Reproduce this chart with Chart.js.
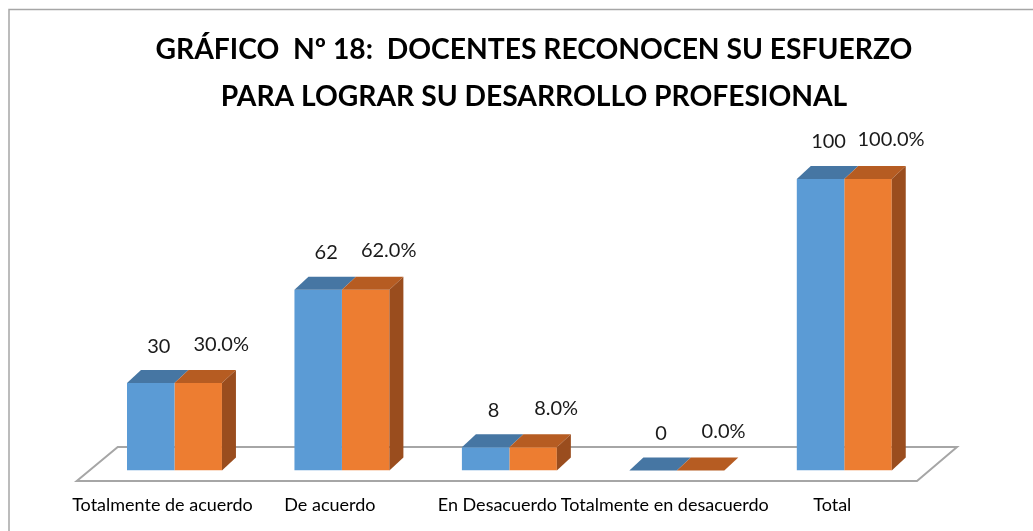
<!DOCTYPE html>
<html>
<head>
<meta charset="utf-8">
<title>Gráfico Nº 18</title>
<script src="https://cdn.jsdelivr.net/npm/chart.js"></script>
<style>
  body { margin: 0; background: #fff; }
  canvas { display: block; }
</style>
</head>
<body>
<canvas id="chart" width="1033" height="531"></canvas>
<script>
const categories = ["Totalmente de acuerdo", "De acuerdo", "En Desacuerdo", "Totalmente en desacuerdo", "Total"];
const cantidad = [30, 62, 8, 0, 100];
const porcentaje = [30.0, 62.0, 8.0, 0.0, 100.0];
const titleLines = ["GRÁFICO  Nº 18:  DOCENTES RECONOCEN SU ESFUERZO", "PARA LOGRAR SU DESARROLLO PROFESIONAL"];

const BLUE = '#5B9BD5', ORANGE = '#ED7D31';
const TOPS = ['#4676A3', '#B65C22'];
const SIDE = '#9A4D1E';
const DX = 14, DY = -13;

// fit the title to the width of the original line
const TITLE_FONT = 'Lato, "Liberation Sans", sans-serif';
const m = document.createElement('canvas').getContext('2d');
m.font = `bold 30px ${TITLE_FONT}`;
const titleSize = 30 * 757 / m.measureText(titleLines[0]).width;

const bars3d = {
  id: 'bars3d',
  beforeDraw(chart) {
    const ctx = chart.ctx;
    ctx.save();
    ctx.strokeStyle = '#A6A6A6';
    ctx.lineWidth = 1.5;
    ctx.strokeRect(9, 9.5, 1100, 600);
    ctx.restore();
  },
  beforeDatasetsDraw(chart) {
    const { ctx, chartArea: a } = chart;
    const fy = a.bottom + 10.5, by = a.bottom - 23.5;
    ctx.save();
    ctx.strokeStyle = '#A6A6A6';
    ctx.lineWidth = 2;
    ctx.beginPath();
    ctx.moveTo(a.left - 14, fy);
    ctx.lineTo(a.right - 11, fy);
    ctx.lineTo(a.right + 29, by);
    ctx.lineTo(a.left + 27, by);
    ctx.closePath();
    ctx.stroke();
    ctx.restore();
  },
  afterDatasetsDraw(chart) {
    const ctx = chart.ctx;
    const n = chart.data.datasets.length;
    ctx.save();
    chart.data.datasets.forEach((ds, di) => {
      chart.getDatasetMeta(di).data.forEach(bar => {
        const l = bar.x - bar.width / 2, r = bar.x + bar.width / 2, t = bar.y, b = bar.base;
        ctx.fillStyle = TOPS[di];
        ctx.beginPath();
        ctx.moveTo(l, t);
        ctx.lineTo(l + DX, t + DY);
        ctx.lineTo(r + DX, t + DY);
        ctx.lineTo(r, t);
        ctx.closePath();
        ctx.fill();
        if (di === n - 1 && b - t > 0.5) {
          ctx.fillStyle = SIDE;
          ctx.beginPath();
          ctx.moveTo(r, t);
          ctx.lineTo(r + DX, t + DY);
          ctx.lineTo(r + DX, b + DY);
          ctx.lineTo(r, b);
          ctx.closePath();
          ctx.fill();
        }
      });
    });

    // value labels
    ctx.font = '20px Lato, "Open Sans", sans-serif';
    ctx.fillStyle = '#1a1a1a';
    ctx.textAlign = 'center';
    ctx.textBaseline = 'middle';
    chart.getDatasetMeta(0).data.forEach((bar, i) => {
      ctx.fillText(String(cantidad[i]), bar.x + 8, bar.y - 37);
    });
    chart.getDatasetMeta(1).data.forEach((bar, i) => {
      ctx.fillText(porcentaje[i].toFixed(1) + '%', bar.x + 23, bar.y - 39);
    });
    ctx.restore();
  }
};

new Chart(document.getElementById('chart'), {
  type: 'bar',
  data: {
    labels: categories,
    datasets: [
      { label: 'Cantidad', data: cantidad, backgroundColor: BLUE },
      { label: 'Porcentaje', data: porcentaje, backgroundColor: ORANGE }
    ]
  },
  options: {
    responsive: false,
    animation: false,
    events: [],
    datasets: { bar: { categoryPercentage: 0.567, barPercentage: 1 } },
    layout: { padding: { left: 90.75, right: 55.75, top: 0, bottom: 16 } },
    plugins: {
      legend: { display: false },
      tooltip: { enabled: false },
      title: {
        display: true,
        text: titleLines,
        color: '#000',
        font: { family: TITLE_FONT, size: titleSize, weight: 'bold', lineHeight: '47px' },
        padding: { top: 26, bottom: 59 }
      }
    },
    scales: {
      x: {
        grid: { display: false, drawTicks: false },
        border: { display: false },
        ticks: {
          color: '#000',
          font: { family: 'Lato, "Open Sans", sans-serif', size: 18 },
          padding: 24,
          labelOffset: -12,
          maxRotation: 0,
          autoSkip: false
        },
        afterFit(s) { s.height = 44.5; }
      },
      y: {
        position: 'right',
        min: 0,
        max: 100,
        grid: { display: false, drawTicks: false },
        border: { display: false },
        ticks: { display: false },
        afterFit(s) { s.width = 49.25; }
      }
    }
  },
  plugins: [bars3d]
});
</script>
</body>
</html>
